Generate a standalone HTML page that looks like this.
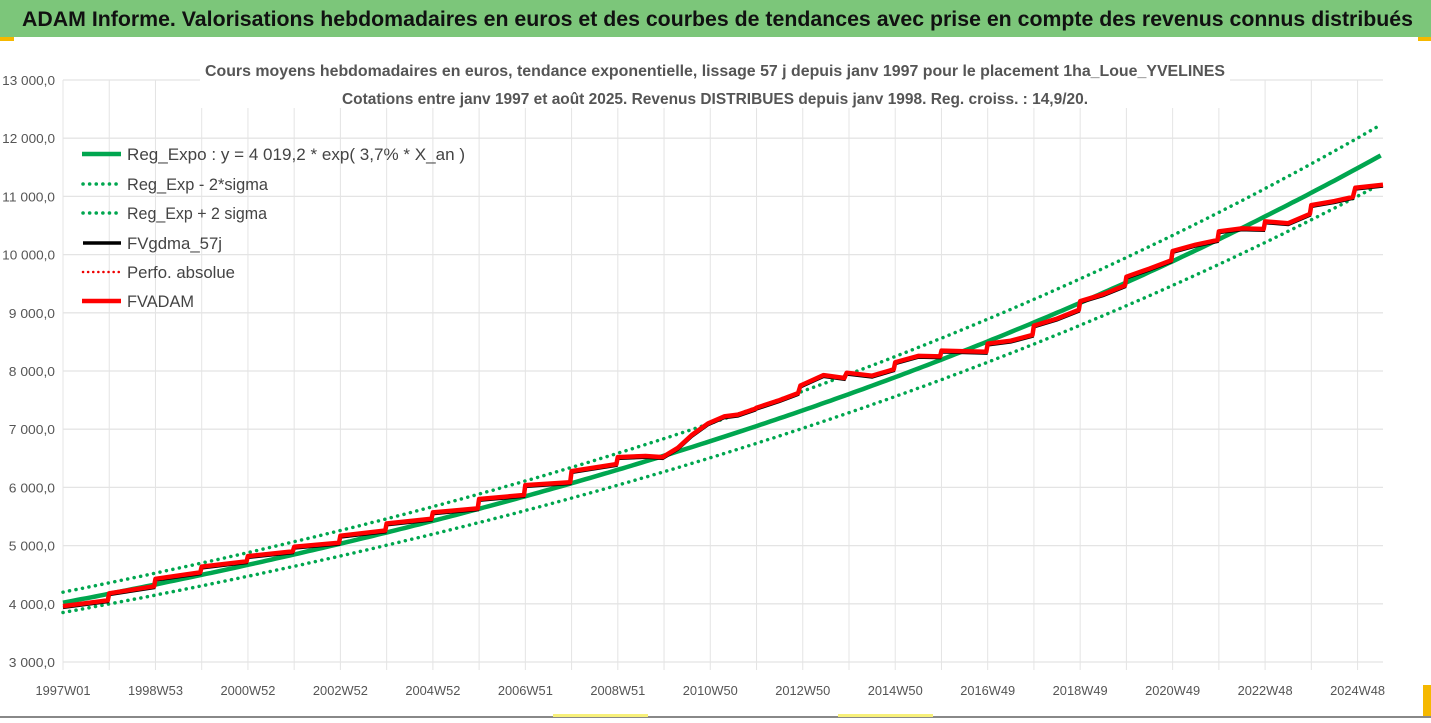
<!DOCTYPE html>
<html><head><meta charset="utf-8"><style>
html,body{margin:0;padding:0;background:#fff;}
body{width:1431px;height:718px;overflow:hidden;font-family:"Liberation Sans",sans-serif;}
</style></head><body>
<svg id="chart" width="1431" height="718" xmlns="http://www.w3.org/2000/svg" font-family="Liberation Sans, sans-serif">
<rect x="0" y="0" width="1431" height="718" fill="#fff"/>
<rect x="0" y="0" width="1431" height="37" fill="#7cc67a"/>
<rect x="0" y="37" width="14" height="4" fill="#f5b800"/>
<rect x="1418" y="37" width="13" height="4" fill="#f5b800"/>
<rect x="1423" y="685" width="8" height="33" fill="#f5b800"/>
<rect x="0" y="716" width="1431" height="2" fill="#888"/>
<rect x="553" y="714" width="95" height="3" fill="#f7f07a"/>
<rect x="838" y="714" width="95" height="3" fill="#f7f07a"/>
<text x="22" y="26" font-size="21" font-weight="bold" fill="#111" textLength="1391" lengthAdjust="spacingAndGlyphs">ADAM Informe. Valorisations hebdomadaires en euros et des courbes de tendances avec prise en compte des revenus connus distribués</text>
<g id="grid"></g>
<g id="yaxis"></g>
<g id="xaxis"></g>
<g id="series"></g>
<rect x="200" y="52" width="1030" height="56" fill="#fff"/>
<text x="715" y="76" font-size="16" font-weight="bold" fill="#555" text-anchor="middle" textLength="1020" lengthAdjust="spacingAndGlyphs">Cours moyens hebdomadaires en euros, tendance exponentielle, lissage 57 j depuis janv 1997 pour le placement 1ha_Loue_YVELINES</text>
<text x="715" y="104" font-size="16" font-weight="bold" fill="#555" text-anchor="middle" textLength="746" lengthAdjust="spacingAndGlyphs">Cotations entre janv 1997 et août 2025. Revenus DISTRIBUES depuis janv 1998. Reg. croiss. : 14,9/20.</text>
<g>
<g><line x1="82" y1="154" x2="121" y2="154" stroke="#00a64f" stroke-width="4.5"/><text x="127" y="160" font-size="17" fill="#444" textLength="338" lengthAdjust="spacingAndGlyphs">Reg_Expo : y = 4 019,2 * exp( 3,7% *  X_an )</text></g>
<g><line x1="83" y1="184" x2="121" y2="184" stroke="#00a64f" stroke-width="3.5" stroke-dasharray="0.1 6.5" stroke-linecap="round"/><text x="127" y="190" font-size="17" fill="#444" textLength="141" lengthAdjust="spacingAndGlyphs">Reg_Exp - 2*sigma</text></g>
<g><line x1="83" y1="213" x2="121" y2="213" stroke="#00a64f" stroke-width="3.5" stroke-dasharray="0.1 6.5" stroke-linecap="round"/><text x="127" y="219" font-size="17" fill="#444" textLength="140" lengthAdjust="spacingAndGlyphs">Reg_Exp + 2 sigma</text></g>
<g><line x1="83" y1="243" x2="121" y2="243" stroke="#000" stroke-width="3.5"/><text x="127" y="249" font-size="17" fill="#444" textLength="95" lengthAdjust="spacingAndGlyphs">FVgdma_57j</text></g>
<g><line x1="83" y1="272" x2="121" y2="272" stroke="#e00" stroke-width="2.5" stroke-dasharray="0.1 5" stroke-linecap="round"/><text x="127" y="278" font-size="17" fill="#444" textLength="108" lengthAdjust="spacingAndGlyphs">Perfo. absolue</text></g>
<g><line x1="82" y1="301" x2="121" y2="301" stroke="#f00" stroke-width="4.5"/><text x="127" y="307" font-size="17" fill="#444" textLength="67" lengthAdjust="spacingAndGlyphs">FVADAM</text></g>
</g>
</svg>
<script>
const yTicks = [3000,4000,5000,6000,7000,8000,9000,10000,11000,12000,13000];
const yTickLabels = ["3 000,0","4 000,0","5 000,0","6 000,0","7 000,0","8 000,0","9 000,0","10 000,0","11 000,0","12 000,0","13 000,0"];
const xTickYears = [1997,1999,2001,2003,2005,2007,2009,2011,2013,2015,2017,2019,2021,2023,2025];
const xTickLabels = ["1997W01","1998W53","2000W52","2002W52","2004W52","2006W51","2008W51","2010W50","2012W50","2014W50","2016W49","2018W49","2020W49","2022W48","2024W48"];
const trendBase = 4019.2;
const trendRate = 0.0375;
const bandUpper = 1.045;
const bandLower = 0.958;
const adamYears = [1997.0,1997.97,1998.0,1998.97,1999.0,1999.97,2000.0,2000.97,2001.0,2001.97,2002.0,2002.97,2003.0,2003.97,2004.0,2004.97,2005.0,2005.97,2006.0,2006.97,2007.0,2007.97,2008.0,2008.97,2009.0,2009.6,2009.97,2010.3,2010.6,2010.95,2011.3,2011.6,2011.97,2012.0,2012.5,2012.9,2012.95,2013.45,2013.9,2013.95,2014.5,2014.97,2015.0,2015.5,2015.97,2016.0,2016.5,2016.97,2017.0,2017.5,2017.97,2018.0,2018.5,2018.97,2019.0,2019.5,2019.97,2020.0,2020.5,2020.97,2021.0,2021.5,2021.97,2022.0,2022.5,2022.97,2023.0,2023.5,2023.97,2024.0,2024.5,2024.9,2024.95,2025.55];
const adamValues = [3960,4060,4180,4300,4430,4540,4640,4730,4820,4900,4980,5050,5170,5260,5380,5460,5570,5640,5800,5870,6040,6090,6280,6400,6520,6540,6520,6680,6900,7100,7220,7250,7350,7370,7500,7620,7750,7930,7880,7970,7920,8030,8150,8260,8250,8350,8340,8330,8470,8520,8620,8780,8900,9050,9200,9320,9470,9620,9760,9900,10060,10170,10250,10400,10450,10440,10570,10540,10700,10850,10920,10990,11150,11200];
const ns = "http://www.w3.org/2000/svg";
const X0 = 63, X1 = 1383, Y0 = 662, Y1 = 80;
const xStart = 1997.0, xEnd = 2025.55;
function xs(y){ return X0 + (y - xStart) / (xEnd - xStart) * (X1 - X0); }
function ys(v){ return Y0 - (v - 3000) / 10000 * (Y0 - Y1); }
function mk(tag, attrs, parent){ const e = document.createElementNS(ns, tag); for (const k in attrs) e.setAttribute(k, attrs[k]); parent.appendChild(e); return e; }
const grid = document.getElementById('grid');
const yaxis = document.getElementById('yaxis');
const xaxis = document.getElementById('xaxis');
const series = document.getElementById('series');
yTicks.forEach((t, i) => {
  const l = mk('line', {x1: X0, x2: X1, y1: ys(t), y2: ys(t), stroke: '#e4e4e4', 'stroke-width': 1.3}, grid);
  
  
  const tx = mk('text', {x: 55, y: ys(t) + 5, 'font-size': 13, fill: '#555', 'text-anchor': 'end', textLength: yTickLabels[i].length * 6.6, lengthAdjust: 'spacingAndGlyphs'}, yaxis);
  tx.textContent = yTickLabels[i];
  
  
});
for (let yr = 1997; yr <= 2025; yr++) {
  const l = mk('line', {x1: xs(yr), x2: xs(yr), y1: Y1, y2: Y0 + 8, stroke: '#e4e4e4', 'stroke-width': 1}, grid);
  
  
}
xTickYears.forEach((yr, i) => {
  const tx = mk('text', {x: xs(yr), y: 695, 'font-size': 13, fill: '#555', 'text-anchor': 'middle', textLength: 55, lengthAdjust: 'spacingAndGlyphs'}, xaxis);
  tx.textContent = xTickLabels[i];
  
  
});
function trendPts(f){ const p = []; for (let t = xStart; t <= xEnd + 0.001; t += 0.1) p.push(xs(t).toFixed(1) + ',' + ys(f * trendBase * Math.exp(trendRate * (t - xStart))).toFixed(1)); return p.join(' '); }
const up = mk('polyline', {points: trendPts(bandUpper), fill: 'none', stroke: '#00a64f', 'stroke-width': 3.5, 'stroke-dasharray': '0.1 6.5', 'stroke-linecap': 'round'}, series);


const lo = mk('polyline', {points: trendPts(bandLower), fill: 'none', stroke: '#00a64f', 'stroke-width': 3.5, 'stroke-dasharray': '0.1 6.5', 'stroke-linecap': 'round'}, series);


const tr = mk('polyline', {points: trendPts(1), fill: 'none', stroke: '#00a64f', 'stroke-width': 4.5}, series);


const adamPts = adamYears.map((y, i) => xs(y).toFixed(1) + ',' + ys(adamValues[i]).toFixed(1)).join(' ');
const bl = mk('polyline', {points: adamPts, fill: 'none', stroke: '#000', 'stroke-width': 3, transform: 'translate(0,1.5)'}, series);


const rd = mk('polyline', {points: adamPts, fill: 'none', stroke: '#f00', 'stroke-width': 4.5, 'stroke-linejoin': 'round'}, series);


</script>
</body></html>
